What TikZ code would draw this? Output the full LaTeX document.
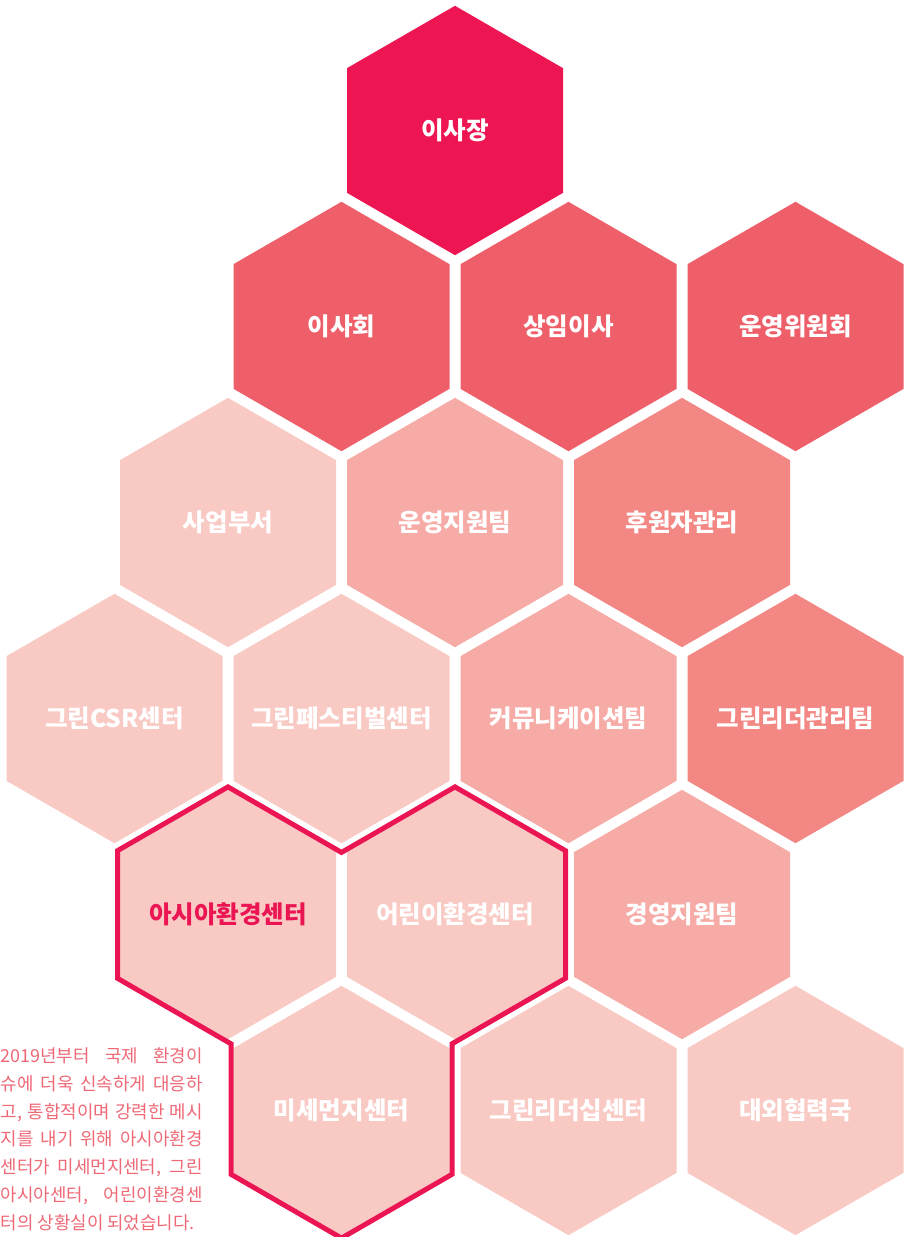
\documentclass[tikz,border=0pt]{standalone}
\usepackage{fontspec}
\newfontfamily\kr{Noto Sans CJK KR}
\definecolor{cTop}{HTML}{EE1652}
\definecolor{cTwo}{HTML}{EF5F6A}
\definecolor{cMid}{HTML}{F38784}
\definecolor{cSoft}{HTML}{F7ABA6}
\definecolor{cLight}{HTML}{F9C9C4}
\definecolor{cLine}{HTML}{EA1552}
\definecolor{cPara}{HTML}{EE6876}
\tikzset{
  lbl/.style={font=\kr\bfseries\fontsize{24.5}{28}\selectfont, inner sep=0pt},
  ring/.style={draw=cLine, line width=5pt, miter limit=10},
  para/.style={font=\kr\fontsize{17.9}{27.8}\selectfont, text=cPara, inner sep=0pt,
     text width=202pt, align=justify, anchor=north west}
}
\newcommand\hexa[6]{%
  \fill[#4] (#2,#3) ++(0,-124.7) -- ++(108,62.35) -- ++(0,124.7) -- ++(-108,62.35)
     -- ++(-108,-62.35) -- ++(0,-124.7) -- cycle;
  \node[lbl,text=#5] (#1) at (#2,#3) {#6};}
\begin{document}
\begin{tikzpicture}[x=1pt,y=-1pt]
\useasboundingbox (0,0) rectangle (912,1237);
\hexa{chair}{455}{130.5}{cTop}{white}{이사장}
\hexa{board}{341.5}{326.5}{cTwo}{white}{이사회}
\hexa{exec}{568.5}{326.5}{cTwo}{white}{상임이사}
\hexa{comm}{795.5}{326.5}{cTwo}{white}{운영위원회}
\hexa{biz}{228}{522.5}{cLight}{white}{사업부서}
\hexa{ops}{455}{522.5}{cSoft}{white}{운영지원팀}
\hexa{donor}{682}{522.5}{cMid}{white}{후원자관리}
\hexa{csr}{114.5}{718.5}{cLight}{white}{그린CSR센터}
\hexa{fest}{341.5}{718.5}{cLight}{white}{그린페스티벌센터}
\hexa{pr}{568.5}{718.5}{cSoft}{white}{커뮤니케이션팀}
\hexa{leadm}{795.5}{718.5}{cMid}{white}{그린리더관리팀}
\hexa{asia}{228}{914.5}{cLight}{cLine}{아시아환경센터}
\hexa{kids}{455}{914.5}{cLight}{white}{어린이환경센터}
\hexa{mgmt}{682}{914.5}{cSoft}{white}{경영지원팀}
\hexa{dust}{341.5}{1110.5}{cLight}{white}{미세먼지센터}
\hexa{lship}{568.5}{1110.5}{cLight}{white}{그린리더십센터}
\hexa{intl}{795.5}{1110.5}{cLight}{white}{대외협력국}
\draw[ring] (117.5,978.3) -- (117.5,850.7) -- (228,786.9) -- (338.5,850.7) -- (341.5,852.4)
  -- (344.5,850.7) -- (455,786.9) -- (565.5,850.7) -- (565.5,978.3) -- (452,1043.8)
  -- (452,1174.3) -- (341.5,1238.1) -- (231,1174.3) -- (231,1043.8) -- cycle;
\node[para] (desc) at (0.5,1047.5) {\tolerance=10000 2019년부터 국제 환경이\linebreak
슈에 더욱 신속하게 대응하\linebreak
고, 통합적이며 강력한 메시\linebreak
지를 내기 위해 아시아환경\linebreak
센터가 미세먼지센터, 그린\linebreak
아시아센터, 어린이환경센\linebreak
터의 상황실이 되었습니다.};
\end{tikzpicture}
\end{document}
